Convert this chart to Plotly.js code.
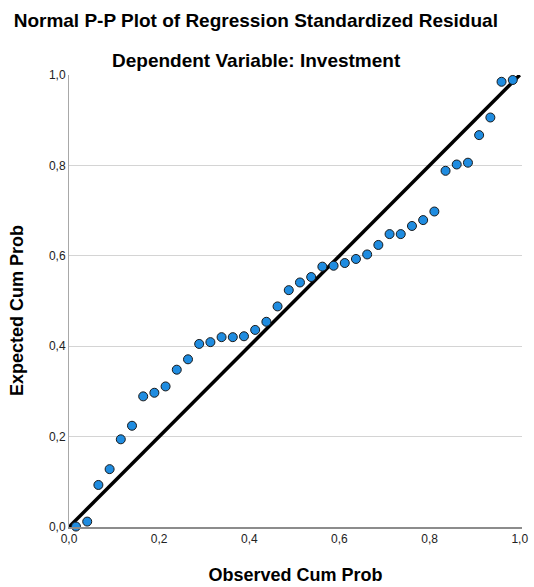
<!DOCTYPE html>
<html>
<head>
<meta charset="utf-8">
<script src="https://cdn.plot.ly/plotly-3.0.1.min.js"></script>
<style>html,body{margin:0;padding:0;background:#fff}#chart{width:534px;height:587px}</style>
</head>
<body>
<div id="chart"></div>
<script>
var observedCumProb = [0.0155,0.0404,0.0652,0.0901,0.1149,0.1398,0.1646,0.1894,0.2143,0.2391,
  0.2640,0.2888,0.3137,0.3385,0.3634,0.3882,0.4130,0.4379,0.4627,0.4876,
  0.5124,0.5373,0.5621,0.5870,0.6118,0.6366,0.6615,0.6863,0.7112,0.7360,
  0.7609,0.7857,0.8106,0.8354,0.8602,0.8851,0.9099,0.9348,0.9596,0.9845];
var expectedCumProb = [0.001,0.012,0.093,0.128,0.194,0.224,0.289,0.297,0.311,0.348,
  0.371,0.405,0.409,0.420,0.420,0.422,0.436,0.454,0.488,0.524,
  0.541,0.553,0.576,0.578,0.584,0.593,0.603,0.624,0.648,0.648,
  0.666,0.679,0.698,0.788,0.802,0.806,0.867,0.906,0.985,0.989];
var refLineX = [0, 1];
var refLineY = [0, 1];
var tickVals = [0, 0.2, 0.4, 0.6, 0.8, 1.0];
var tickText = ['0,0','0,2','0,4','0,6','0,8','1,0'];

var traces = [
  {x: refLineX, y: refLineY, mode: 'lines', type: 'scatter',
   line: {color: '#000000', width: 3.5}, hoverinfo: 'skip', cliponaxis: false},
  {x: observedCumProb, y: expectedCumProb, mode: 'markers', type: 'scatter',
   marker: {size: 9, color: '#1f8ce0', line: {color: '#1a1a1a', width: 1}}, cliponaxis: false}
];

var font = 'Liberation Sans, Arial, sans-serif';
var layout = {
  width: 534, height: 587,
  margin: {l: 69, r: 12, t: 75, b: 60},
  paper_bgcolor: '#ffffff', plot_bgcolor: '#ffffff',
  showlegend: false,
  font: {family: font, size: 12, color: '#222222'},
  title: {text: '<b>Normal P-P Plot of Regression Standardized Residual</b>',
    font: {family: font, size: 19, color: '#000000'},
    x: 0.479, xanchor: 'center', xref: 'container',
    y: 1 - 20/587, yanchor: 'middle', yref: 'container'},
  annotations: [{
    text: '<b>Dependent Variable: Investment</b>', showarrow: false,
    xref: 'paper', yref: 'paper', x: 0.413, y: 1 + 15/452,
    xanchor: 'center', yanchor: 'middle',
    font: {family: font, size: 19, color: '#000000'}
  }, {
    text: '<b>Expected Cum Prob</b>', showarrow: false, textangle: -90,
    xref: 'paper', yref: 'paper', x: (17 - 69) / 453, y: (527 - 311) / 452,
    xanchor: 'center', yanchor: 'middle',
    font: {family: font, size: 18, color: '#000000'}
  }],
  xaxis: {
    range: [0, 1.005], tickvals: tickVals, ticktext: tickText,
    showgrid: false, zeroline: false,
    showline: true, linecolor: '#8c8c8c', linewidth: 1.5,
    ticks: '', tickfont: {family: font, size: 12, color: '#222222'},
    title: {text: '<b>Observed Cum Prob</b>', standoff: 23,
      font: {family: font, size: 18, color: '#000000'}}
  },
  yaxis: {
    range: [0, 1], tickvals: tickVals, ticktext: tickText,
    showgrid: true, gridcolor: '#d4d4d4', gridwidth: 1, zeroline: false,
    showline: true, linecolor: '#a8a8a8', linewidth: 1,
    ticks: '', tickfont: {family: font, size: 12, color: '#222222'}
  }
};

Plotly.newPlot('chart', traces, layout, {displayModeBar: false, staticPlot: true});
</script>
</body>
</html>
